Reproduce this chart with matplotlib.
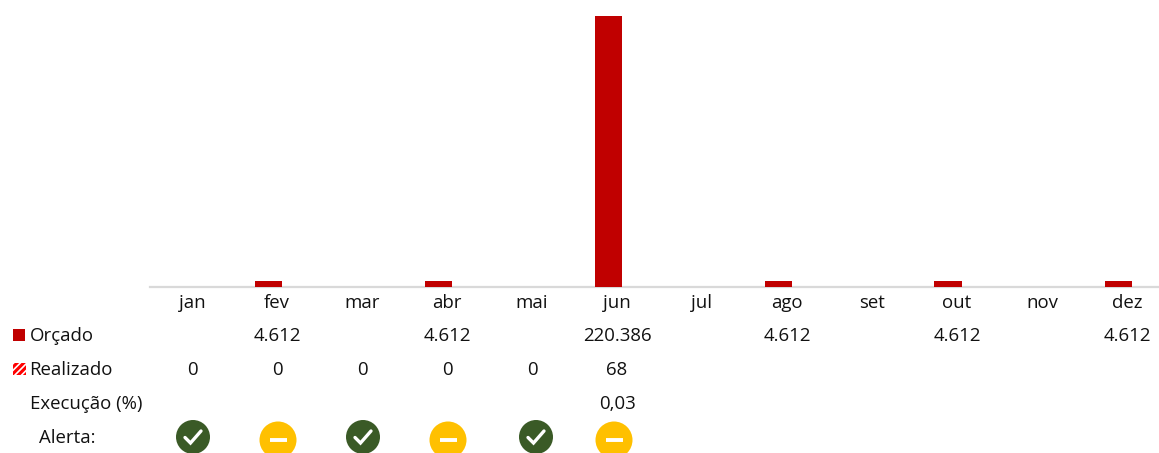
import matplotlib
matplotlib.use("Agg")
import matplotlib.pyplot as plt
from matplotlib.patches import Rectangle, Circle
from matplotlib.transforms import blended_transform_factory

months = ["jan", "fev", "mar", "abr", "mai", "jun", "jul", "ago", "set", "out", "nov", "dez"]
orcado = [None, 4612, None, 4612, None, 220386, None, 4612, None, 4612, None, 4612]
realizado = [0, 0, 0, 0, 0, 68, None, None, None, None, None, None]
execucao = [None, None, None, None, None, "0,03", None, None, None, None, None, None]
alerta = ["ok", "neutro", "ok", "neutro", "ok", "neutro", None, None, None, None, None, None]
alerta_dx = [1, 1, 1, 1, 4, -3, 0, 0, 0, 0, 0, 0]


def fmt(v):
    return f"{v:,}".replace(",", ".")


W, H = 1159, 453
RED = "#C00000"
GREEN = "#3A5A26"
YELLOW = "#FFC000"
TXT = "#111111"
FS = 13.45
plt.rcParams["font.family"] = ["Open Sans", "DejaVu Sans"]
plt.rcParams["hatch.linewidth"] = 2.2

fig = plt.figure(figsize=(W / 100, H / 100), dpi=100, facecolor="white")
left, right, top, bottom = 149.5, 1169.5, 16, 286.5
ax = fig.add_axes([left / W, 1 - bottom / H, (right - left) / W, (bottom - top) / H])
ax.set_xlim(-0.5, 11.5)
ax.set_ylim(0, max(v for v in orcado if v))
for s in ["top", "left", "right"]:
    ax.spines[s].set_visible(False)
ax.spines["bottom"].set_color("#D9D9D9")
ax.spines["bottom"].set_linewidth(1.6)
ax.set_yticks([])
ax.set_xticks(range(12))
ax.set_xticklabels(months, fontsize=FS, color=TXT)
ax.tick_params(axis="x", length=0, pad=5.2)
ax.patch.set_visible(False)

bw = 27 / 85
off = 9 / 85
for i, v in enumerate(orcado):
    if v is not None:
        ax.bar(i - off, v, width=bw, color=RED, linewidth=0, zorder=3)
for i, v in enumerate(realizado):
    if v:
        ax.bar(i + off, v, width=bw, facecolor="white", edgecolor="#FF0000", hatch="////", linewidth=0, zorder=2)

# Pixel overlay for the table rows beneath the chart
px = fig.add_axes([0, 0, 1, 1])
px.set_xlim(0, W)
px.set_ylim(H, 0)
px.axis("off")
px.patch.set_visible(False)
tr = blended_transform_factory(ax.transData, px.transData)

for y, vals in [(336, orcado), (370, realizado), (404, execucao)]:
    for i, v in enumerate(vals):
        if v is None:
            continue
        s = v if isinstance(v, str) else fmt(v)
        px.text(i, y, s, transform=tr, ha="center", va="center", fontsize=FS, color=TXT)

for x, y, s in [(30, 336, "Orçado"), (29.5, 370, "Realizado"), (30, 404, "Execução (%)"), (39, 438, "Alerta:")]:
    px.text(x, y, s, ha="left", va="center", fontsize=FS, color=TXT)

px.add_patch(Rectangle((13, 329), 12, 12, facecolor=RED, edgecolor="none"))
px.add_patch(Rectangle((13, 363), 13, 12, facecolor="white", edgecolor="#FF0000", hatch="/////", linewidth=0))

# Alert icons
x_to_px = lambda i: left + (i + 0.5) * (right - left) / 12
for i, a in enumerate(alerta):
    if a is None:
        continue
    cx = x_to_px(i) + alerta_dx[i]
    if a == "ok":
        cy = 437
        px.add_patch(Circle((cx, cy), 17, facecolor=GREEN, edgecolor="none"))
        px.plot([cx - 8, cx - 2.5, cx + 8], [cy + 0.5, cy + 6, cy - 6], color="white", lw=2.4,
                solid_capstyle="round", solid_joinstyle="miter")
    else:
        cy = 440
        px.add_patch(Circle((cx, cy), 18.5, facecolor=YELLOW, edgecolor="none"))
        px.plot([cx - 8.5, cx + 8.5], [cy, cy], color="white", lw=2.8, solid_capstyle="butt")

fig.savefig("out.png", dpi=100)
